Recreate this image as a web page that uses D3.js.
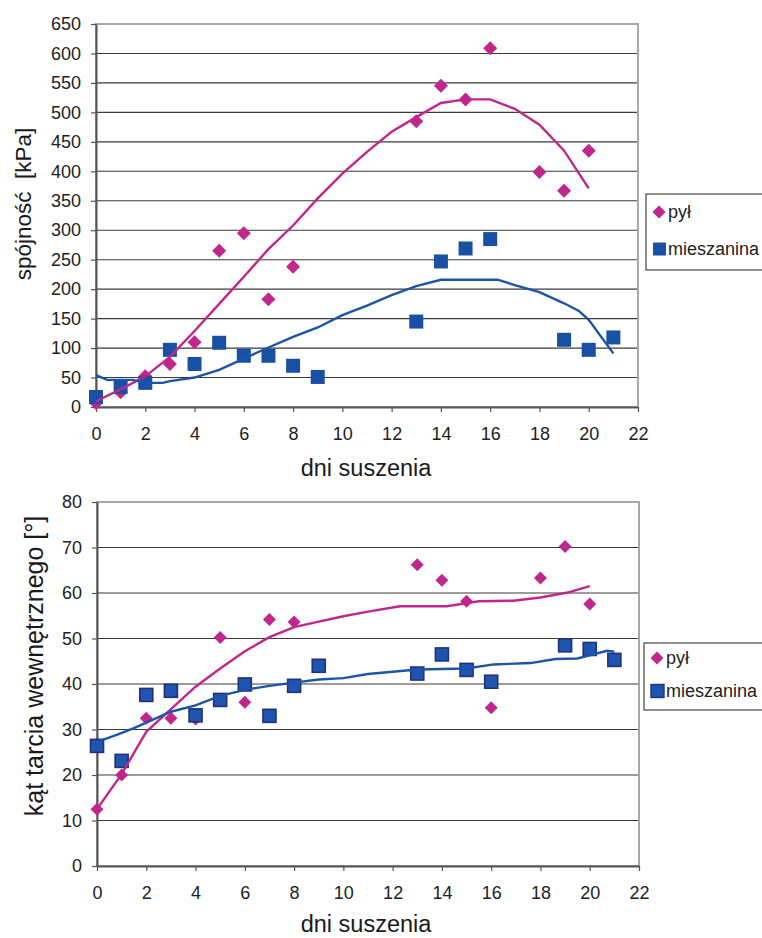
<!DOCTYPE html>
<html>
<head>
<meta charset="utf-8">
<script src="https://cdn.jsdelivr.net/npm/d3@7"></script>
<style>
  body { margin: 0; background: #fff; }
  svg { font-family: "Liberation Sans", Arial, sans-serif; }
  .title { white-space: pre; fill: #1a1a1a; }
</style>
</head>
<body>
<div id="chart"></div>
<script>
// x = dni suszenia
var xTicks = [0, 2, 4, 6, 8, 10, 12, 14, 16, 18, 20, 22];
var seriesNames = ["pył", "mieszanina"];

// spójność [kPa]
var cohesionDust = [[0,7],[1,25],[2,52],[3,73],[4,110],[5,265],[6,295],[7,183],[8,238],[13,485],[14,545],[15,522],[16,609],[18,399],[19,367],[20,435]];
var cohesionMix = [[0,17],[1,34],[2,41],[3,97],[4,73],[5,109],[6,87],[7,87],[8,70],[9,51],[13,145],[14,247],[15,269],[16,285],[19,114],[20,97],[21,118]];
var cohesionDustTrend = [[0,9],[0.35,17],[1,30],[2,52],[3,85],[4,129],[5,175],[6,221],[7,268],[8,308],[9,354],[10,396],[11,433],[12,467],[13,492],[14,516],[15,522],[16,522],[17,506],[18,479],[19,435],[20,371]];
var cohesionMixTrend = [[0,54],[0.45,46],[1.5,46],[2,41],[2.7,41],[3,44],[4,50],[5,63],[6,82],[7,101],[8,119],[9,135],[10,156],[11,172],[12,190],[13,205],[14,216],[16.3,216],[17,207],[18,195],[19,176],[19.6,163],[20,148],[21,91]];
var cohesionTicks = d3.range(0, 651, 50);

// kąt tarcia wewnętrznego [°]
var frictionDust = [[0,12.5],[1,20],[2,32.5],[3,32.5],[4,32.3],[5,50.2],[6,36],[7,54.2],[8,53.6],[13,66.2],[14,62.8],[15,58.2],[16,34.8],[18,63.3],[19,70.2],[20,57.6]];
var frictionMix = [[0,26.4],[1,23.1],[2,37.6],[3,38.5],[4,33.1],[5,36.5],[6,39.9],[7,33],[8,39.6],[9,44],[13,42.3],[14,46.5],[15,43.1],[16,40.5],[19,48.5],[20,47.7],[21,45.3]];
var frictionDustTrend = [[0,12.5],[1,20.2],[2,29.5],[3,34.5],[4,39.4],[5,43.4],[6,47.2],[7,50.3],[8,52.5],[9,53.7],[10,54.9],[11,55.9],[12.3,57.1],[14.2,57.1],[15.5,58.2],[16.9,58.3],[18,59],[19.1,60.1],[20,61.5]];
var frictionMixTrend = [[0,27.3],[0.8,28.8],[1.5,30.3],[2,31.5],[3,33.9],[4,35.3],[5,37.4],[6,38.7],[7,39.6],[8,40.3],[9,41],[10,41.3],[11,42.2],[13,43.2],[15,43.4],[16.1,44.3],[17.6,44.6],[18.6,45.5],[19.5,45.6],[20.2,46.6],[20.7,47.3],[21,47.1]];
var frictionTicks = d3.range(0, 81, 10);

var pink = "#c0268b";
var blue = "#1c55a8";

var svg = d3.select("#chart").append("svg").attr("width", 762).attr("height", 938);

function diamond(r) {
    return "M0," + (-r) + "L" + r + ",0L0," + r + "L" + (-r) + ",0Z";
}

var drawPanel = function(o) {
    var x = d3.scaleLinear().domain([0, 22]).range([o.left, o.right]);
    var y = d3.scaleLinear().domain([0, o.yTicks[o.yTicks.length - 1]]).range([o.bottom, o.top]);
    var g = svg.append("g");

    // grid
    g.selectAll(".grid").data(o.yTicks.slice(1, -1)).enter()
        .append("line")
        .attr("x1", o.left).attr("x2", o.right)
        .attr("y1", function(d) { return y(d); }).attr("y2", function(d) { return y(d); })
        .attr("stroke", "#3a3a3a").attr("stroke-width", 1.1);

    // plot border (gray)
    g.append("rect")
        .attr("x", o.left).attr("y", o.top)
        .attr("width", o.right - o.left).attr("height", o.bottom - o.top)
        .attr("fill", "none").attr("stroke", "#a8a8a8").attr("stroke-width", 2);

    var ya = g.append("g").attr("transform", "translate(" + o.left + ",0)")
        .call(d3.axisLeft(y).tickValues(o.yTicks).tickSize(5).tickPadding(10).tickSizeOuter(0));
    var xa = g.append("g").attr("transform", "translate(0," + o.bottom + ")")
        .call(d3.axisBottom(x).tickValues(xTicks).tickSize(5).tickPadding(15).tickSizeOuter(0));
    [ya, xa].forEach(function(a) {
        a.select(".domain").attr("stroke", "#555").attr("stroke-width", 2);
        a.selectAll(".tick line").attr("stroke", "#555").attr("stroke-width", 1.2);
        a.selectAll("text").attr("font-size", 18).attr("fill", "#222")
            .attr("font-family", "Liberation Sans, Arial, sans-serif");
    });

    // markers
    g.selectAll(".dia").data(o.dust).enter().append("path")
        .attr("d", diamond(o.dr))
        .attr("transform", function(d) { return "translate(" + x(d[0]) + "," + y(d[1]) + ")"; })
        .attr("fill", pink);
    g.selectAll(".sq").data(o.mix).enter().append("rect")
        .attr("x", function(d) { return x(d[0]) - o.sq / 2; })
        .attr("y", function(d) { return y(d[1]) - o.sq / 2; })
        .attr("width", o.sq).attr("height", o.sq)
        .attr("fill", o.sqFill)
        .attr("stroke", o.sqStroke).attr("stroke-width", o.sqStroke === "none" ? 0 : 1.6);

    // trend lines
    var line = d3.line().x(function(d) { return x(d[0]); }).y(function(d) { return y(d[1]); });
    g.append("path").datum(o.dustTrend).attr("d", line)
        .attr("fill", "none").attr("stroke", pink).attr("stroke-width", 2.4);
    g.append("path").datum(o.mixTrend).attr("d", line)
        .attr("fill", "none").attr("stroke", blue).attr("stroke-width", 2.4);

    // titles
    g.append("text").attr("class", "title")
        .attr("x", 366).attr("y", o.xTitleY)
        .attr("text-anchor", "middle").attr("font-size", 23.5)
        .text("dni suszenia");
    g.append("text").attr("class", "title")
        .attr("transform", "translate(" + o.yTitleX + "," + o.yTitleY + ") rotate(-90)")
        .attr("text-anchor", "middle").attr("font-size", o.yTitleSize)
        .text(o.yTitle);

    // legend
    var lg = g.append("g").attr("transform", "translate(" + o.legX + "," + o.legY + ")");
    lg.append("rect").attr("x", 0).attr("y", 0).attr("width", 140).attr("height", o.legH)
        .attr("fill", "#fff").attr("stroke", "#444").attr("stroke-width", 1.2);
    lg.append("path").attr("d", diamond(6.5))
        .attr("transform", "translate(13," + o.legRow1 + ")").attr("fill", pink);
    lg.append("rect").attr("x", 7).attr("y", o.legRow2 - 6.5).attr("width", 13).attr("height", 13)
        .attr("fill", o.sqFill).attr("stroke", o.sqStroke).attr("stroke-width", o.sqStroke === "none" ? 0 : 1.4);
    lg.selectAll(".lt").data(seriesNames).enter().append("text")
        .attr("x", 22)
        .attr("y", function(d, i) { return (i === 0 ? o.legRow1 : o.legRow2) + 6; })
        .attr("font-size", 18).attr("fill", "#222")
        .text(function(d) { return d; });
};

drawPanel({
    left: 96, right: 638, top: 24, bottom: 407,
    yTicks: cohesionTicks,
    dust: cohesionDust, mix: cohesionMix,
    dustTrend: cohesionDustTrend, mixTrend: cohesionMixTrend,
    dr: 7, sq: 14, sqFill: "#1a50a3", sqStroke: "none",
    xTitleY: 476,
    yTitle: "spójność  [kPa]", yTitleX: 31, yTitleY: 204, yTitleSize: 22.5,
    legX: 646, legY: 194, legH: 76, legRow1: 18, legRow2: 55
});

drawPanel({
    left: 97, right: 639, top: 502, bottom: 866,
    yTicks: frictionTicks,
    dust: frictionDust, mix: frictionMix,
    dustTrend: frictionDustTrend, mixTrend: frictionMixTrend,
    dr: 6.5, sq: 13, sqFill: "#1f55b0", sqStroke: "#22307e",
    xTitleY: 932,
    yTitle: "kąt tarcia wewnętrznego [°]", yTitleX: 43, yTitleY: 666, yTitleSize: 25,
    legX: 644, legY: 643, legH: 67, legRow1: 15, legRow2: 48
});
</script>
</body>
</html>
